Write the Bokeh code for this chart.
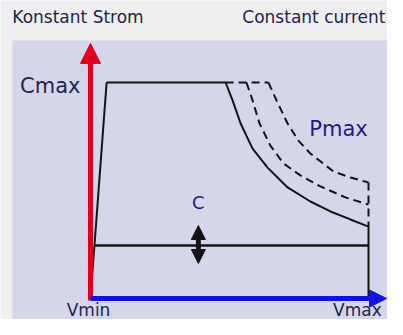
from bokeh.plotting import figure
from bokeh.models import Range1d, Arrow, NormalHead
from bokeh.embed import file_html
from bokeh.resources import INLINE
from bokeh.core.properties import value

# ---- schematic data (V: 0 = Vmin .. 100 = Vmax, C: 0 .. 100 = Cmax) ----
title_left = "Konstant Strom"
title_right = "Constant current"
labels = ["Cmax", "Pmax", "Vmin", "Vmax", "C"]

# operating envelope: rising edge, Cmax plateau, Pmax curve, Vmax edge
v_rise = [0.0, 5.8]
c_rise = [0.0, 100.0]
v_solid = [5.8, 48.6, 51.1, 54.0, 58.3, 63.7, 70.9, 79.1, 86.3, 93.5, 100.0, 100.0]
c_solid = [100.0, 100.0, 91.7, 81.0, 69.4, 60.6, 51.4, 44.9, 40.3, 36.6, 33.3, 0.0]

# higher power curves (dashed)
v_top_dash = [48.6, 64.0]
c_top_dash = [100.0, 100.0]
v_inner = [56.1, 58.3, 60.8, 64.7, 69.4, 75.5, 82.7, 91.7, 100.0]
c_inner = [100.0, 91.7, 81.0, 70.8, 62.5, 57.0, 51.9, 46.8, 43.5]
v_outer = [64.0, 66.9, 70.9, 74.8, 79.1, 87.4, 93.5, 100.0]
c_outer = [100.0, 91.7, 81.0, 73.1, 67.1, 58.8, 56.0, 53.7]
v_vert_dash = [100.0, 100.0]
c_vert_dash = [53.7, 33.3]

# set current level C
c_level = 24.5
v_level = [1.4, 100.0]
v_adjust = 38.8
c_adjust = [16.2, 33.8]

NAVY = "#23234f"
BLUE_TXT = "#1c1c84"
RED = "#e0001c"
BLUE = "#1212e6"
INK = "#141414"
FONT = value("DejaVu Sans")

p = figure(width=387, height=319, output_backend="svg", toolbar_location=None,
           x_range=Range1d(-32.37, 106.83), y_range=Range1d(-9.72, 137.96),
           min_border=0)
p.axis.visible = False
p.grid.visible = False
p.outline_line_color = None
p.background_fill_color = "#efeff1"
p.border_fill_color = "#efeff1"

# panel
p.quad(left=-28.1, right=115, bottom=-20, top=119.4,
       fill_color="#d6d6eb", line_color=None)

# envelope
p.line(v_rise, c_rise, line_color=INK, line_width=2)
p.line(v_solid, c_solid, line_color=INK, line_width=2)
p.line(v_level, [c_level, c_level], line_color=INK, line_width=2.5)

# dashed curves
for vx, cy in [(v_top_dash, c_top_dash), (v_inner, c_inner),
               (v_outer, c_outer), (v_vert_dash, c_vert_dash)]:
    p.line(vx, cy, line_color=INK, line_width=2, line_dash="8 5")

# axes arrows
p.add_layout(Arrow(x_start=0, y_start=-0.9, x_end=0, y_end=118.1,
                   line_color=RED, line_width=5,
                   end=NormalHead(size=20, fill_color=RED, line_color=RED)))
p.add_layout(Arrow(x_start=0, y_start=0, x_end=106.5, y_end=0,
                   line_color=BLUE, line_width=5,
                   end=NormalHead(size=17, fill_color=BLUE, line_color=BLUE)))

# adjust arrow
p.add_layout(Arrow(x_start=v_adjust, y_start=c_adjust[0], x_end=v_adjust, y_end=c_adjust[1],
                   line_color=INK, line_width=5,
                   start=NormalHead(size=14, fill_color=INK, line_color=INK),
                   end=NormalHead(size=14, fill_color=INK, line_color=INK)))

# titles
p.text(x=[-28.1], y=[130.1], text=[title_left], text_font=FONT, text_font_size="17px",
       text_color=NAVY, text_align="left", text_baseline="middle")
p.text(x=[106.1], y=[130.1], text=[title_right], text_font=FONT, text_font_size="17px",
       text_color=NAVY, text_align="right", text_baseline="middle")

# labels
p.text(x=[-3.6], y=[98.6], text=[labels[0]], text_font=FONT, text_font_size="21px",
       text_color=NAVY, text_align="right", text_baseline="middle")
p.text(x=[89.2], y=[78.7], text=[labels[1]], text_font=FONT, text_font_size="21px",
       text_color=BLUE_TXT, text_align="center", text_baseline="middle")
p.text(x=[-0.7], y=[-0.9], text=[labels[2]], text_font=FONT, text_font_size="17px",
       text_color=NAVY, text_align="center", text_baseline="top")
p.text(x=[96.0], y=[-0.9], text=[labels[3]], text_font=FONT, text_font_size="17px",
       text_color=NAVY, text_align="center", text_baseline="top")
p.text(x=[v_adjust], y=[44.4], text=[labels[4]], text_font=FONT, text_font_size="18px",
       text_color=BLUE_TXT, text_align="center", text_baseline="middle")

open("out.html", "w").write(file_html(p, INLINE))
